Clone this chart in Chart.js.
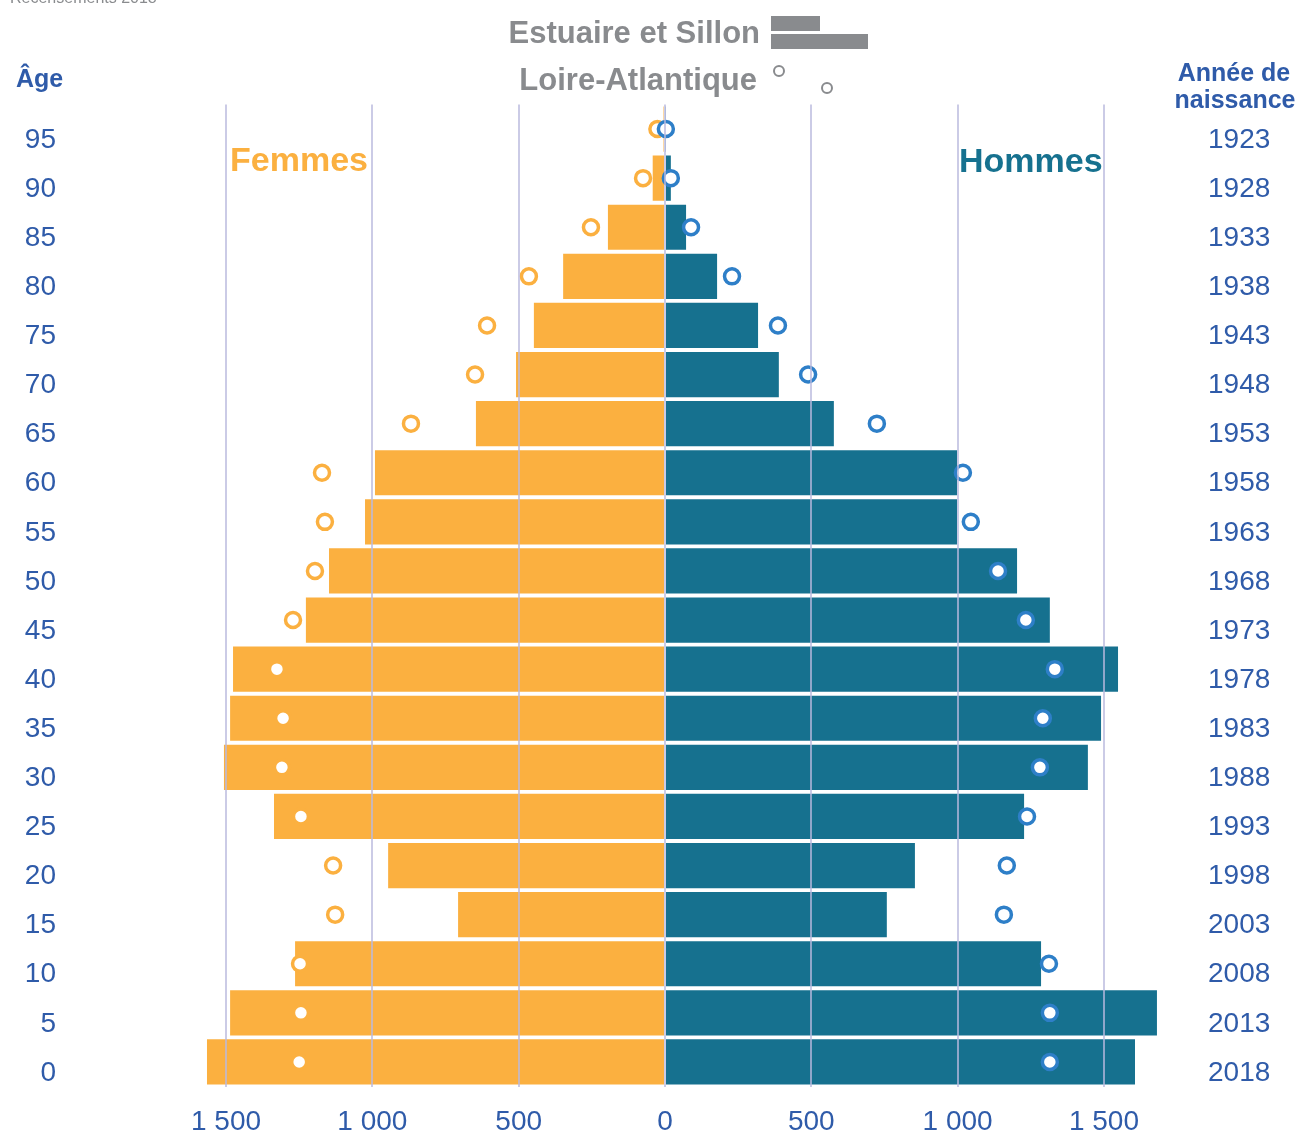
<!DOCTYPE html>
<html>
<head>
<meta charset="utf-8">
<script src="https://cdn.jsdelivr.net/npm/chart.js@4.4.1/dist/chart.umd.min.js"></script>
<style>
body{margin:0;background:#fff;}
#wrap{width:1303px;height:1144px;position:relative;}
</style>
</head>
<body>
<div id="wrap"><canvas id="chart"></canvas></div>
<script>
const ages = ["95","90","85","80","75","70","65","60","55","50","45","40","35","30","25","20","15","10","5","0"];
const years = ["1923","1928","1933","1938","1943","1948","1953","1958","1963","1968","1973","1978","1983","1988","1993","1998","2003","2008","2013","2018"];

// Estuaire et Sillon (barres)
const femmesES = [-5,-42,-195,-348,-448,-509,-646,-991,-1025,-1148,-1227,-1476,-1486,-1507,-1336,-946,-707,-1264,-1486,-1565];
const hommesES = [2,20,72,178,318,389,577,998,998,1203,1315,1548,1490,1445,1227,854,758,1285,1681,1606];

// Loire-Atlantique (points)
const femmesLA = [-26,-75,-253,-465,-608,-649,-868,-1172,-1162,-1196,-1271,-1326,-1305,-1309,-1244,-1134,-1127,-1247,-1244,-1250];
const hommesLA = [3,20,89,229,386,489,724,1018,1045,1138,1233,1332,1291,1281,1237,1168,1158,1312,1315,1315];

const xTicks = [-1500,-1000,-500,0,500,1000,1500];

const ORANGE = "#fbb040";
const TEAL = "#16718f";
const BLUE = "#2e7fc8";
const TXT = "#2f5ba9";
const GREY = "#898b8e";

function fmt(v){
  return String(Math.abs(v)).replace(/\B(?=(\d{3})+(?!\d))/g," ");
}

function pts(vals){
  return vals.map((v,i)=>({x:v,y:ages[i]}));
}

const overlay = {
  id:"overlay",
  afterDraw(c){
    const ctx = c.ctx;
    ctx.save();
    ctx.fillStyle = GREY;
    ctx.font = "16px 'Liberation Sans'";
    ctx.textBaseline = "alphabetic";
    ctx.fillText("Recensements 2018",10,3);

    ctx.font = "bold 25px 'Liberation Sans'";
    ctx.fillStyle = TXT;
    ctx.textAlign = "left";
    ctx.fillText("Âge",16,87);
    ctx.textAlign = "center";
    ctx.fillText("Année de",1234,81);
    ctx.fillText("naissance",1235,108);

    ctx.font = "bold 34px 'Liberation Sans'";
    ctx.textAlign = "left";
    ctx.fillStyle = ORANGE;
    ctx.fillText("Femmes",230,171);
    ctx.fillStyle = TEAL;
    ctx.fillText("Hommes",959,172);

    // legende
    ctx.font = "bold 31px 'Liberation Sans'";
    ctx.fillStyle = GREY;
    ctx.textAlign = "right";
    ctx.fillText("Estuaire et Sillon",760,43);
    ctx.fillText("Loire-Atlantique",757,90);
    ctx.fillRect(771,16,49,15);
    ctx.fillRect(771,34,97,15);
    ctx.strokeStyle = GREY;
    ctx.lineWidth = 2;
    ctx.beginPath(); ctx.arc(779,71,5,0,Math.PI*2); ctx.stroke();
    ctx.beginPath(); ctx.arc(827,88,5,0,Math.PI*2); ctx.stroke();
    ctx.restore();
  }
};

const ctx = document.getElementById("chart").getContext("2d");

new Chart(ctx,{
  type:"bar",
  data:{
    labels:ages,
    datasets:[
      {label:"Loire-Atlantique H",type:"line",data:pts(hommesLA),showLine:false,
       pointRadius:7.5,pointBorderWidth:3.5,pointBorderColor:BLUE,pointBackgroundColor:"#fff",order:0},
      {label:"Loire-Atlantique F",type:"line",data:pts(femmesLA),showLine:false,
       pointRadius:7.5,pointBorderWidth:3.5,pointBorderColor:ORANGE,pointBackgroundColor:"#fff",order:1},
      {label:"Estuaire et Sillon H",data:hommesES,backgroundColor:TEAL,grouped:false,order:2},
      {label:"Estuaire et Sillon F",data:femmesES,backgroundColor:ORANGE,grouped:false,order:2}
    ]
  },
  options:{
    indexAxis:"y",
    responsive:true,
    maintainAspectRatio:false,
    animation:false,
    layout:{padding:{top:104.5,left:0,right:0,bottom:0}},
    datasets:{bar:{barPercentage:0.92,categoryPercentage:1}},
    plugins:{legend:{display:false},tooltip:{enabled:false}},
    scales:{
      x:{
        type:"linear",min:-2060.4,max:1828.1,
        afterBuildTicks:s=>{ s.ticks = xTicks.map(v=>({value:v})); },
        afterFit:s=>{ s.height = 57.5; },
        grid:{color:"rgba(185,185,222,0.75)",lineWidth:2,drawTicks:false,z:1},
        border:{display:false},
        ticks:{color:TXT,font:{family:"'Liberation Sans'",size:28},padding:19,
          callback:v=>fmt(v),maxRotation:0,autoSkip:false}
      },
      y:{
        type:"category",labels:ages,position:"left",offset:true,
        afterFit:s=>{ s.width = 62; },
        grid:{display:false,drawTicks:false},
        border:{display:false},
        ticks:{color:TXT,font:{family:"'Liberation Sans'",size:28},padding:6,labelOffset:11,autoSkip:false}
      },
      y2:{
        type:"category",labels:years,position:"right",offset:true,
        afterFit:s=>{ s.width = 103; },
        grid:{display:false,drawTicks:false},
        border:{display:false},
        ticks:{color:TXT,font:{family:"'Liberation Sans'",size:28},padding:8,labelOffset:11,autoSkip:false}
      }
    }
  },
  plugins:[overlay]
});
</script>
</body>
</html>
